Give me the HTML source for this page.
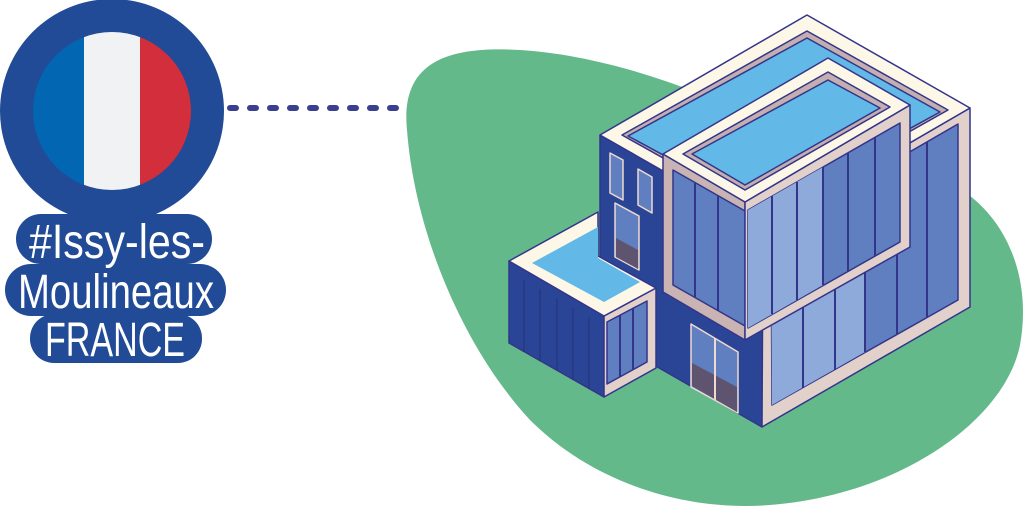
<!DOCTYPE html>
<html><head><meta charset="utf-8"><style>
html,body{margin:0;padding:0;background:#fff;}
body{width:1024px;height:507px;overflow:hidden;position:relative;font-family:"Liberation Sans",sans-serif;}
svg{position:absolute;left:0;top:0;}
</style></head><body>
<svg width="1024" height="507" viewBox="0 0 1024 507" xmlns="http://www.w3.org/2000/svg">
<path d="M407,130 C400,60 450,46 520,50 C600,55 690,85 770,125 C860,170 930,160 975,200 C1015,235 1030,290 1020,345 C1005,420 900,495 770,505 C680,512 590,480 530,420 C465,350 415,235 407,130 Z" fill="#64b98a"/>
<line x1="230" y1="108" x2="408" y2="108" stroke="#3a3f8f" stroke-width="6" stroke-linecap="round" stroke-dasharray="6 14"/>
<circle cx="112" cy="111" r="112" fill="#224b97"/>
<clipPath id="fc"><circle cx="112" cy="111" r="79"/></clipPath>
<g clip-path="url(#fc)">
<rect x="30" y="30" width="54" height="165" fill="#0266b2"/>
<rect x="84" y="30" width="56" height="165" fill="#f1f2f4"/>
<rect x="140" y="30" width="60" height="165" fill="#d22e3c"/>
</g>
<rect x="16" y="214" width="196" height="50" rx="25" fill="#224b97"/>
<rect x="5" y="264" width="221" height="52" rx="26" fill="#224b97"/>
<rect x="30" y="314" width="172" height="49" rx="24" fill="#224b97"/>
<g fill="#fff" font-family="Liberation Sans, sans-serif" font-size="48" lengthAdjust="spacingAndGlyphs">
<text x="29" y="258" textLength="176" lengthAdjust="spacingAndGlyphs">#Issy-les-</text>
<text x="18" y="308" textLength="196" lengthAdjust="spacingAndGlyphs">Moulineaux</text>
<text x="45" y="356" textLength="140" lengthAdjust="spacingAndGlyphs">FRANCE</text>
</g>

<g stroke="#33358a" stroke-width="1.5" stroke-linejoin="round">
<polygon points="600,135 763,228 762,427 600,334" fill="#2b4596"/>
<polygon points="610,153 623,160 623,200 610,193" fill="#5f7fc0" stroke="#f0d9cf"/>
<polygon points="638,169 652,177 652,213 638,205" fill="#5f7fc0" stroke="#f0d9cf"/>
<polygon points="615,203 639,216 639,270 615,257" fill="#5f7fc0" stroke="#f0d9cf"/>
<polygon points="616,238 638,250 638,269 616,257" fill="#5f5470" stroke="none"/>
<polygon points="691,324 738,352 738,413 691,387" fill="#5f7fc0" stroke="#f0d9cf"/>
<polygon points="692,363 737,387 737,412 692,386" fill="#5f5470" stroke="none"/>
<line x1="715" y1="338" x2="715" y2="400" stroke="#f0d9cf" stroke-width="2"/>
<polygon points="763,228 970,108 970,307 762,427" fill="#e2d1cb"/>
<polygon points="771,232 958,124 958,300 772,405" fill="#5f7fc0"/>
<polygon points="771,232 865,178 865,352 772,405" fill="#8eaadb" stroke="none"/>
<g stroke-width="2">
<line x1="803" y1="215" x2="803" y2="388"/><line x1="835" y1="196" x2="835" y2="370"/><line x1="865" y1="178" x2="865" y2="352"/><line x1="897" y1="160" x2="897" y2="334"/><line x1="927" y1="142" x2="927" y2="317"/>
</g>
<polygon points="807,15 970,108 763,228 600,135" fill="#fdf7e8"/>
<polygon points="807,31 948,110 763,214 622,135" fill="#c4aeb0"/>
<polygon points="807,38 940,112 763,209 628,136" fill="#62b8e6"/>
<polygon points="663,154 745,202 745,340 663,292" fill="#c9b3b3"/>
<polygon points="673,170 745,211 745,326 673,285" fill="#5f7fc0"/>
<g stroke-width="2"><line x1="695" y1="183" x2="695" y2="297"/><line x1="718" y1="196" x2="718" y2="311"/></g>
<polygon points="745,202 910,105 910,247 745,340" fill="#e2d1cb"/>
<polygon points="748,210 900,123 900,242 748,328" fill="#5f7fc0"/>
<polygon points="748,210 823,167 823,285 748,328" fill="#8eaadb" stroke="none"/>
<g stroke-width="2">
<line x1="772" y1="196" x2="772" y2="314"/><line x1="797" y1="182" x2="797" y2="300"/><line x1="823" y1="167" x2="823" y2="285"/><line x1="848" y1="153" x2="848" y2="271"/><line x1="875" y1="137" x2="875" y2="256"/>
</g>
<polygon points="828,58 910,105 745,202 663,154" fill="#fdf7e8"/>
<polygon points="828,72 890,107 745,190 683,154" fill="#c4aeb0"/>
<polygon points="828,80 880,108 745,185 692,154" fill="#62b8e6"/>
<polygon points="509,261 604,316 604,397 509,343" fill="#2b4596"/>
<g stroke-width="1" stroke="#24317a"><line x1="524" y1="280" x2="524" y2="352"/><line x1="540" y1="289" x2="540" y2="361"/><line x1="557" y1="298" x2="557" y2="370"/><line x1="573" y1="308" x2="573" y2="380"/><line x1="589" y1="317" x2="589" y2="389"/></g>
<polygon points="604,316 656,288 656,368 604,397" fill="#e2d1cb"/>
<polygon points="607,322 647,301 647,362 607,384" fill="#5f7fc0"/>
<g stroke-width="2"><line x1="620" y1="315" x2="620" y2="377"/><line x1="633" y1="308" x2="633" y2="370"/></g>
<polygon points="509,261 598,212 598,256 656,288 604,316" fill="#fdf7e8"/>
<polygon points="532,263 598,227 598,258 640,282 604,302" fill="#62b8e6" stroke="none"/>
</g>
</svg>
</body></html>
